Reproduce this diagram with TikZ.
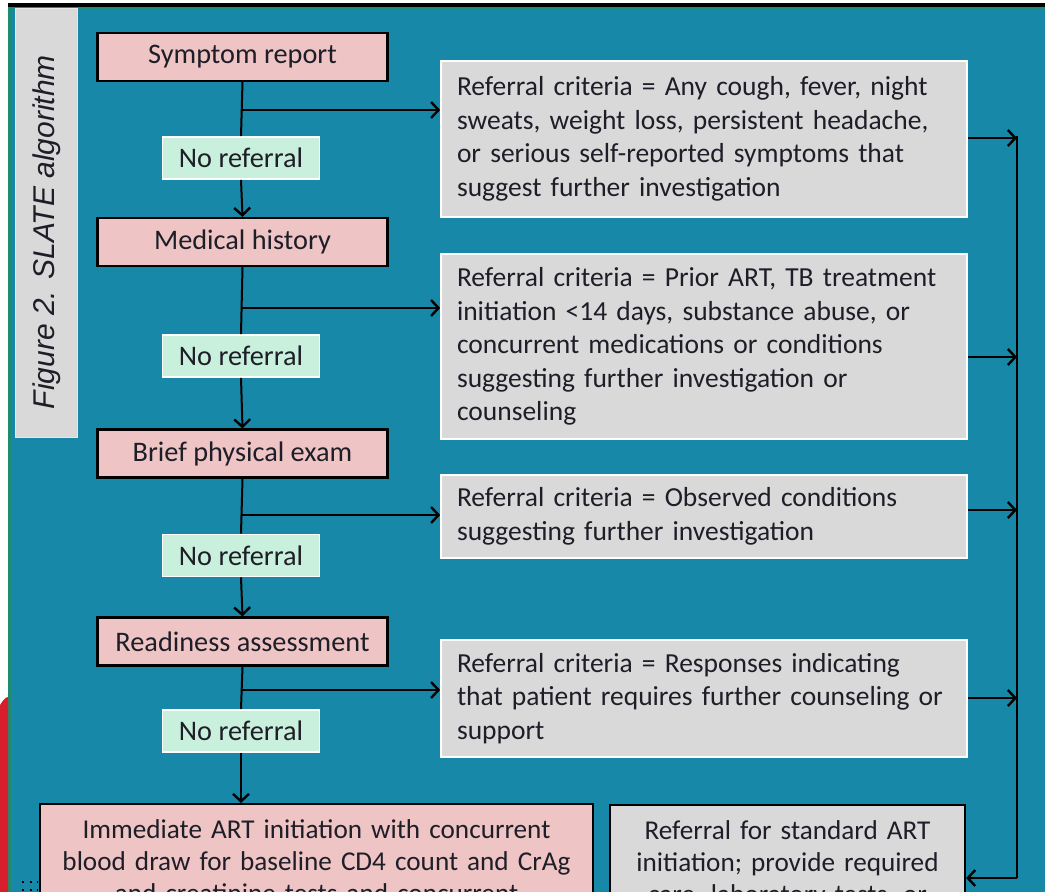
\documentclass[tikz,border=0pt]{standalone}
\usepackage{fontspec}
\setmainfont{Carlito}
\newfontfamily\titlefont{Liberation Sans}
\usetikzlibrary{arrows.meta}
\definecolor{bgteal}{RGB}{24,136,168}
\definecolor{pinkbox}{RGB}{238,196,196}
\definecolor{mintbox}{RGB}{200,240,220}
\definecolor{greybox}{RGB}{217,217,217}
\definecolor{edgegreen}{RGB}{30,140,110}
\definecolor{sidered}{RGB}{216,30,44}
\definecolor{txt}{RGB}{30,30,40}
\tikzset{
  stepbox/.style={draw=black, line width=2.2pt, fill=pinkbox, minimum width=290pt, minimum height=48pt, inner sep=0pt, font=\fontsize{28.3}{33.5}\selectfont, text=txt},
  noref/.style={draw=white, line width=1.6pt, fill=mintbox, minimum width=157pt, minimum height=42pt, inner sep=0pt, font=\fontsize{28.3}{33.5}\selectfont, text=txt},
  critbox/.style={draw=white, line width=1.6pt, fill=greybox, minimum width=526pt, inner xsep=16pt, inner ysep=0pt, text width=494pt, align=left, font=\fontsize{27.5}{33.6}\selectfont, text=txt},
  endbox/.style={draw=black, line width=2.2pt, anchor=north, inner xsep=0pt, inner ysep=16pt, align=center, font=\fontsize{27.2}{32}\selectfont, text=txt},
  flow/.style={draw=black, line width=2pt},
  arr/.style={flow, -{Straight Barb[length=7.5pt,width=16pt,line width=2.4pt]}},
}
\begin{document}
\begin{tikzpicture}[x=1pt,y=-1pt]
\useasboundingbox (0,0) rectangle (1045,892);
\clip (0,0) rectangle (1045,892);
% background
\fill[white] (0,0) rectangle (1045,892);
\fill[bgteal] (8,6) rectangle (1045,892);
\fill[black] (8,3) rectangle (1045,7);
\fill[edgegreen] (8,7) rectangle (10.5,892);
\fill[edgegreen!70!bgteal] (8,7) rectangle (1045,8.5);
\fill[sidered] (0,705) .. controls (3,700) and (6,697) .. (8,697) -- (8,892) -- (0,892) -- cycle;
% title
\node[draw=greybox!60!white, line width=1pt, fill=greybox, minimum width=62pt, minimum height=429pt, inner sep=0pt] (titlebox) at (46,222.5) {};
\node[rotate=90, font=\titlefont\itshape\fontsize{30}{32}\selectfont, text=txt] (title) at (47,232) {Figure 2. SLATE algorithm};
% step boxes
\node[stepbox] (sym) at (242.5,57) {Symptom report};
\node[stepbox] (med) at (242.5,242) {Medical history};
\node[stepbox] (phys) at (242.5,453.5) {Brief physical exam};
\node[stepbox] (ready) at (242.5,641.5) {Readiness assessment};
% no referral boxes
\node[noref] (nr1) at (241,158) {No referral};
\node[noref] (nr2) at (241,356) {No referral};
\node[noref] (nr3) at (241,555.5) {No referral};
\node[noref] (nr4) at (241,731) {No referral};
% criteria boxes
\node[critbox, minimum height=156pt] (g1) at (704,139) {Referral criteria = Any cough, fever, night\\sweats, weight loss, persistent headache,\\or serious self-reported symptoms that\\suggest further investigation};
\node[critbox, minimum height=185pt] (g2) at (704,346.5) {Referral criteria = Prior ART, TB treatment\\initiation <14 days, substance abuse, or\\concurrent medications or conditions\\suggesting further investigation or\\counseling};
\node[critbox, minimum height=83pt] (g3) at (704,516.5) {Referral criteria = Observed conditions\\suggesting further investigation};
\node[critbox, minimum height=117pt] (g4) at (704,698.5) {Referral criteria = Responses indicating\\that patient requires further counseling or\\support};
% final boxes
\node[endbox, fill=pinkbox, text width=553pt] (imm) at (316.5,803) {Immediate ART initiation with concurrent\\blood draw for baseline CD4 count and CrAg\\and creatinine tests and concurrent};
\node[endbox, fill=greybox, text width=355pt] (std) at (787.5,804) {Referral for standard ART\\initiation; provide required\\care, laboratory tests, or};
% main flow
\draw[flow] (sym.south) -- (nr1.north);
\draw[arr] (nr1.south) -- (med.north);
\draw[flow] (med.south) -- (nr2.north);
\draw[arr] (nr2.south) -- (phys.north);
\draw[flow] (phys.south) -- (nr3.north);
\draw[arr] (nr3.south) -- (ready.north);
\draw[flow] (ready.south) -- (nr4.north);
\draw[arr] (nr4.south) -- (imm.north -| nr4.south);
% branches to criteria
\coordinate (b1) at (241,110);
\coordinate (b2) at (241,308);
\coordinate (b3) at (241,515);
\coordinate (b4) at (241,690);
\draw[arr] (b1) -- (b1 -| g1.west);
\draw[arr] (b2) -- (b2 -| g2.west);
\draw[arr] (b3) -- (b3 -| g3.west);
\draw[arr] (b4) -- (b4 -| g4.west);
% right collector
\coordinate (rtop) at (1017,136);
\coordinate (rbot) at (1017,878);
\coordinate (c1) at (1017,138);
\coordinate (c2) at (1017,357);
\coordinate (c3) at (1017,510);
\coordinate (c4) at (1017,698);
\draw[arr] (c1 -| g1.east) -- (c1);
\draw[arr] (c2 -| g2.east) -- (c2);
\draw[arr] (c3 -| g3.east) -- (c3);
\draw[arr] (c4 -| g4.east) -- (c4);
\draw[flow] (rtop) -- (rbot);
\draw[arr] (rbot) -- (rbot -| std.east);
% dots at lower left
\coordinate (d1) at (22,882);
\coordinate (d2) at (38,882);
\coordinate (d3) at (22,890);
\coordinate (d4) at (38,890);
\draw[black, line width=2pt, dash pattern=on 2pt off 5.5pt] (d1) -- (d2);
\draw[black, line width=2pt, dash pattern=on 2pt off 5.5pt] (d3) -- (d4);
\end{tikzpicture}
\end{document}
